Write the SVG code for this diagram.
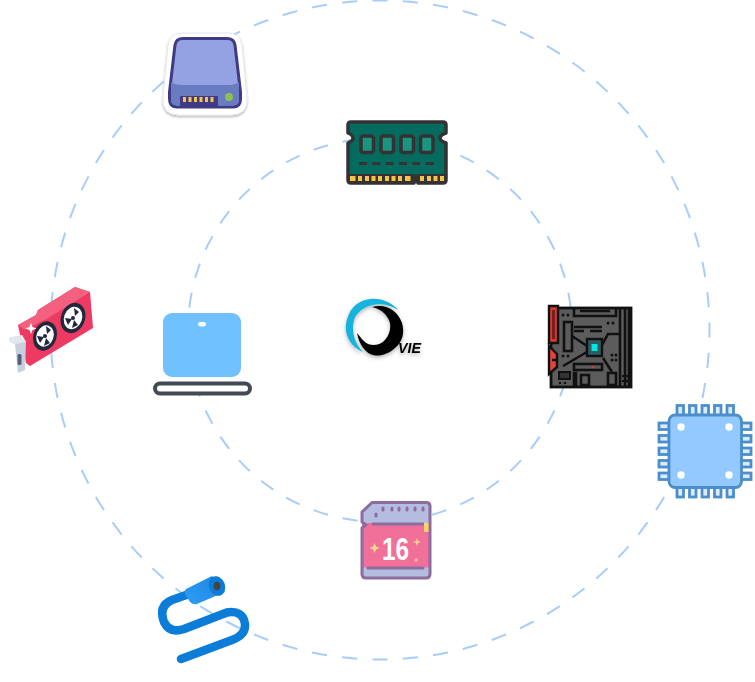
<svg xmlns="http://www.w3.org/2000/svg" width="755" height="682" viewBox="0 0 755 682">
<defs>
<linearGradient id="hd" x1="0" y1="1" x2="1" y2="0"><stop offset="0" stop-color="#2f9ef6"/><stop offset="1" stop-color="#1c85dc"/></linearGradient>
<filter id="sh" x="-20%" y="-20%" width="140%" height="140%"><feDropShadow dx="0" dy="1.500" stdDeviation="1" flood-color="#000" flood-opacity=".3"/></filter>
<filter id="ls" x="-20%" y="-20%" width="140%" height="140%"><feDropShadow dx="0" dy="2" stdDeviation="2" flood-color="#000" flood-opacity=".3"/></filter>
</defs>
<style>
.ring{fill:none;stroke:#a8cdfa;stroke-width:2;stroke-dasharray:.5 .5;stroke-dashoffset:.25}
.mb{fill:none;stroke:#111;stroke-width:2.6}
.pin{fill:#dcebfa;stroke:#4a8fcb;stroke-width:2.8}
.hole{fill:#fff}
.sd{fill:none;stroke:#8d6c9f;stroke-width:3;stroke-linecap:round;stroke-linejoin:round}
.fan{fill:#20283c}
.blade{fill:#fff}
.gold{fill:#f7c34a}
.chipw{fill:#1a9580;stroke:#333;stroke-width:3.5}
</style>
<g id="connectors">
<circle class="ring" cx="380" cy="330" r="329.500" pathLength="68"/>
<circle class="ring" cx="380" cy="330" r="192" pathLength="40"/>
</g>
<g id="node-hdd">
<path d="M182 33H228Q240 33 242 45L247 98Q248 115 231 115H179Q162 115 163 98L168 45Q170 33 182 33Z" fill="#fff" stroke="#e8e8e8" stroke-width="1" filter="url(#sh)"/>
<path d="M183 38.500H227Q234 38.500 235 45L240.500 92V99Q240.500 107 233 107H177Q169.500 107 169.500 99V92L175 45Q176 38.500 183 38.500Z" fill="#94a1e2" stroke="#3f3a85" stroke-width="3"/>
<path d="M171 82Q175 85 181 85H229Q235 85 239 82V99Q239 105.500 233 105.500H177Q171 105.500 171 99Z" fill="#6a7cc0"/>
<path d="M180 106V97Q180 96 181 96H217Q218 96 218 97V106Z" fill="#3f3a85"/>
<g class="gold"><rect x="183" y="97" width="3" height="5"/><rect x="188.500" y="97" width="3" height="5"/><rect x="194" y="97" width="3" height="5"/><rect x="199.500" y="97" width="3" height="5"/><rect x="205" y="97" width="3" height="5"/><rect x="210.500" y="97" width="3" height="5"/></g>
<circle cx="229" cy="97" r="4" fill="#8cc152"/>
</g>
<g id="node-ram">
<path d="M351 122H443Q446 122 446 125V133Q440 135 440 138Q440 141 446 143V180Q446 183 443 183H418L416 176L414 183H351Q348 183 348 180V143Q353 141 353 138Q353 135 348 133V125Q348 122 351 122Z" fill="#056b5e" stroke="#333" stroke-width="3.500" stroke-linejoin="round"/>
<rect class="chipw" x="361" y="136" width="12.500" height="16.500" rx="2.500"/><rect class="chipw" x="381" y="136" width="12.500" height="16.500" rx="2.500"/><rect class="chipw" x="401" y="136" width="12.500" height="16.500" rx="2.500"/><rect class="chipw" x="420.500" y="136" width="12.500" height="16.500" rx="2.500"/>
<path d="M359 163.500H434" stroke="#333" stroke-width="3" stroke-dasharray="8 5.330" fill="none"/>
<path d="M349 174H414V183H349ZM418 174H445V183H418Z" fill="#333"/>
<g class="gold"><rect x="350" y="176" width="5.500" height="5"/><rect x="358" y="176" width="4" height="5"/><rect x="365" y="176" width="4" height="5"/><rect x="371.500" y="176" width="4" height="5"/><rect x="378" y="176" width="4" height="5"/><rect x="385" y="176" width="4" height="5"/><rect x="391.500" y="176" width="4" height="5"/><rect x="398" y="176" width="4" height="5"/><rect x="405" y="176" width="5.500" height="5"/><rect x="420" y="176" width="4" height="5"/><rect x="427" y="176" width="4" height="5"/><rect x="433.500" y="176" width="4" height="5"/><rect x="440" y="176" width="4" height="5"/></g>
</g>
<g id="node-gpu">
<path d="M18 325L36 315L38 310L75 287L90 292L93 328L30 366L26 363Z" fill="#ee3a62"/>
<path d="M18 325L36 315L38 310L75 287L90 292L87 294L45 320L40 322L25 330Z" fill="#f4607f"/>
<ellipse cx="45" cy="336" rx="11.500" ry="15" transform="rotate(20 45 336)" class="fan"/>
<ellipse cx="73" cy="318" rx="12" ry="15.500" transform="rotate(20 73 318)" class="fan"/>
<g class="blade"><ellipse cx="45" cy="336" rx="8.500" ry="11" transform="rotate(20 45 336)"/><ellipse cx="73" cy="318" rx="9" ry="11.500" transform="rotate(20 73 318)"/></g>
<g fill="#20283c"><circle cx="45" cy="336" r="2"/><circle cx="73" cy="318" r="2"/><path d="M46 326L47 334L51 330ZM37 336L44 337L40 343ZM50 343L46 338L44 346Z"/><path d="M74 308L75 316L79 312ZM65 318L72 319L68 325ZM78 325L74 320L72 328Z"/></g>
<path d="M31 323L32.500 327L36.500 328.500L32.500 330L31 334L29.500 330L25.500 328.500L29.500 327Z" fill="#fff"/>
<path d="M9 338L22 335L26 342L25 370L18 373L15 344L10 342Z" fill="#c9d0dd"/>
<path d="M9 338L22 335L26 342L15 344L10 342Z" fill="#e3e6ee"/>
<rect x="17.500" y="354" width="4" height="11" rx="1.500" fill="#56607a"/>
</g>
<g id="node-laptop">
<rect x="163" y="313" width="78" height="64" rx="9" fill="#70c1ff"/>
<rect x="198" y="322" width="8" height="4.500" rx="2.200" fill="#fff"/>
<rect x="155" y="383.500" width="95" height="10" rx="5" fill="#fff" stroke="#434a54" stroke-width="4"/>
</g>
<g id="node-logo" filter="url(#ls)">
<path d="M398 310C386 295 358 294 349 314C341 331 349 346 363 352C355 344 351 332 354 320C358 306 381 298 398 310Z" fill="#18b4dc"/>
<path d="M372 307C386 303 398 311 402 323C405 333 402 342 396 347C390 353 383 356 375 355.500C365 354 359 344 357 333C361 338 364 342 368 344C373 346 380 345 384 341C389 336 391 329 390 323C388 315 381 309 372 307Z" fill="#000"/>
<text x="398" y="352.500" font-family="Liberation Sans, sans-serif" font-size="14" font-weight="700" font-style="italic" textLength="23" lengthAdjust="spacingAndGlyphs">VIE</text>
</g>
<g id="node-motherboard">
<rect x="551" y="308" width="80" height="79" fill="#5c5c5c" stroke="#111" stroke-width="2.800"/>
<path d="M549 306H558V343H549Z" fill="#d93a35" stroke="#111" stroke-width="2.400"/>
<path d="M549 346L557 354V367L549 374Z" fill="#e8403a" stroke="#111" stroke-width="2.400"/>
<path d="M552 310H555V339H552Z" fill="#7b1d1a"/>
<rect class="mb" x="564" y="322" width="8" height="29"/>
<path class="mb" d="M574 308V316H616V308"/>
<path class="mb" d="M580 311H610M620 308V387M625 308V387M629 308V387M574 327H602M574 331H584M590 331H602M563 366L587 352M572 336L587 346M602 345L608 334H619M603 358L612 372M552 360H557"/>
<rect class="mb" x="574" y="364" width="28" height="6"/>
<rect x="559" y="372" width="11" height="7" fill="#333" stroke="#111" stroke-width="2"/>
<rect class="mb" x="574" y="373" width="2" height="12"/>
<rect class="mb" x="581" y="375" width="8" height="10"/>
<rect class="mb" x="608" y="373" width="8" height="12"/>
<rect x="587" y="339" width="15" height="17" fill="#2f5a60" stroke="#111" stroke-width="2.400"/>
<rect x="591.500" y="344" width="6" height="7" fill="#00e5e5"/>
<g fill="#111"><circle cx="563" cy="315" r="1.500"/><circle cx="568" cy="315" r="1.500"/><circle cx="608" cy="323" r="1.500"/><circle cx="613" cy="323" r="1.500"/><circle cx="563" cy="356" r="1.500"/><circle cx="568" cy="356" r="1.500"/><circle cx="612" cy="355" r="1.500"/><circle cx="616" cy="355" r="1.500"/><circle cx="612" cy="360" r="1.500"/><circle cx="616" cy="360" r="1.500"/><circle cx="623" cy="376" r="1.300"/><circle cx="627" cy="376" r="1.300"/><circle cx="623" cy="381" r="1.300"/><circle cx="627" cy="381" r="1.300"/><circle cx="560" cy="383" r="1.300"/><circle cx="565" cy="383" r="1.300"/></g>
<circle cx="593" cy="367" r="1.200" fill="#e33"/>
</g>
<g id="node-chip">
<rect class="pin" x="677" y="405.500" width="6.500" height="10"/><rect class="pin" x="689.500" y="405.500" width="6.500" height="10"/><rect class="pin" x="702" y="405.500" width="6.500" height="10"/><rect class="pin" x="714.500" y="405.500" width="6.500" height="10"/><rect class="pin" x="727" y="405.500" width="6.500" height="10"/>
<rect class="pin" x="677" y="487" width="6.500" height="10"/><rect class="pin" x="689.500" y="487" width="6.500" height="10"/><rect class="pin" x="702" y="487" width="6.500" height="10"/><rect class="pin" x="714.500" y="487" width="6.500" height="10"/><rect class="pin" x="727" y="487" width="6.500" height="10"/>
<rect class="pin" x="659" y="423" width="10" height="6.500"/><rect class="pin" x="659" y="435.500" width="10" height="6.500"/><rect class="pin" x="659" y="448" width="10" height="6.500"/><rect class="pin" x="659" y="460.500" width="10" height="6.500"/><rect class="pin" x="659" y="473" width="10" height="6.500"/>
<rect class="pin" x="741" y="423" width="10" height="6.500"/><rect class="pin" x="741" y="435.500" width="10" height="6.500"/><rect class="pin" x="741" y="448" width="10" height="6.500"/><rect class="pin" x="741" y="460.500" width="10" height="6.500"/><rect class="pin" x="741" y="473" width="10" height="6.500"/>
<rect x="669" y="415" width="72.500" height="72.500" rx="6" fill="#93c9ff" stroke="#4a8fcb" stroke-width="2.800"/>
<circle class="hole" cx="681" cy="427" r="3.700"/><circle class="hole" cx="729" cy="427" r="3.700"/><circle class="hole" cx="681" cy="475" r="3.700"/><circle class="hole" cx="729" cy="475" r="3.700"/>
</g>
<g id="node-sd">
<path d="M372 502H426Q430 502 430 506V574Q430 578 426 578H366Q362 578 362 574V512Z" fill="#b4bcdf"/>
<rect x="362" y="523" width="68" height="44.500" fill="#f0709a"/>
<path class="sd" d="M372 502.500H426Q430 502.500 430 506V574Q430 578 426 578H366Q362 578 362 574V528L366 525L362 522V512ZM373 524H423M368 568H423"/>
<path class="sd" d="M376 514V516M383 508V510M392 508V510M399 508V510M407 508V510M415 508V510M423 508V510"/>
<rect x="424" y="523" width="4.500" height="9" fill="#f9d66b"/>
<text x="395.500" y="560" text-anchor="middle" font-family="Liberation Sans, sans-serif" font-size="32" font-weight="700" fill="#fff" textLength="27" lengthAdjust="spacingAndGlyphs">16</text>
<g fill="#fbd98a"><path d="M374.500 543L376 546.500L379.500 548L376 549.500L374.500 553L373 549.500L369.500 548L373 546.500Z"/><path d="M417 538L418 541L421 542L418 543L417 546L416 543L413 542L416 541Z"/><path d="M416 557.500L416.700 559.300L418.500 560L416.700 560.700L416 562.500L415.300 560.700L413.500 560L415.300 559.300Z"/></g>
</g>
<g id="node-cable">
<path d="M181 659L232 640Q246 635 245 624Q243 610 227 612.500L184 629Q170 634 164 622Q158 606 172 600L189 594" fill="none" stroke="#0b7cd8" stroke-width="8.500" stroke-linecap="round"/>
<path d="M186 589L212 576L225 592L197 604Q193 605 190 602L185 594Q184 591 186 589Z" fill="url(#hd)"/>
<ellipse cx="217" cy="586" rx="8" ry="10" fill="#0b7cd8" transform="rotate(-20 217 586)"/>
<ellipse cx="217" cy="586" rx="3.400" ry="4.200" fill="#444"/>
</g>
</svg>
